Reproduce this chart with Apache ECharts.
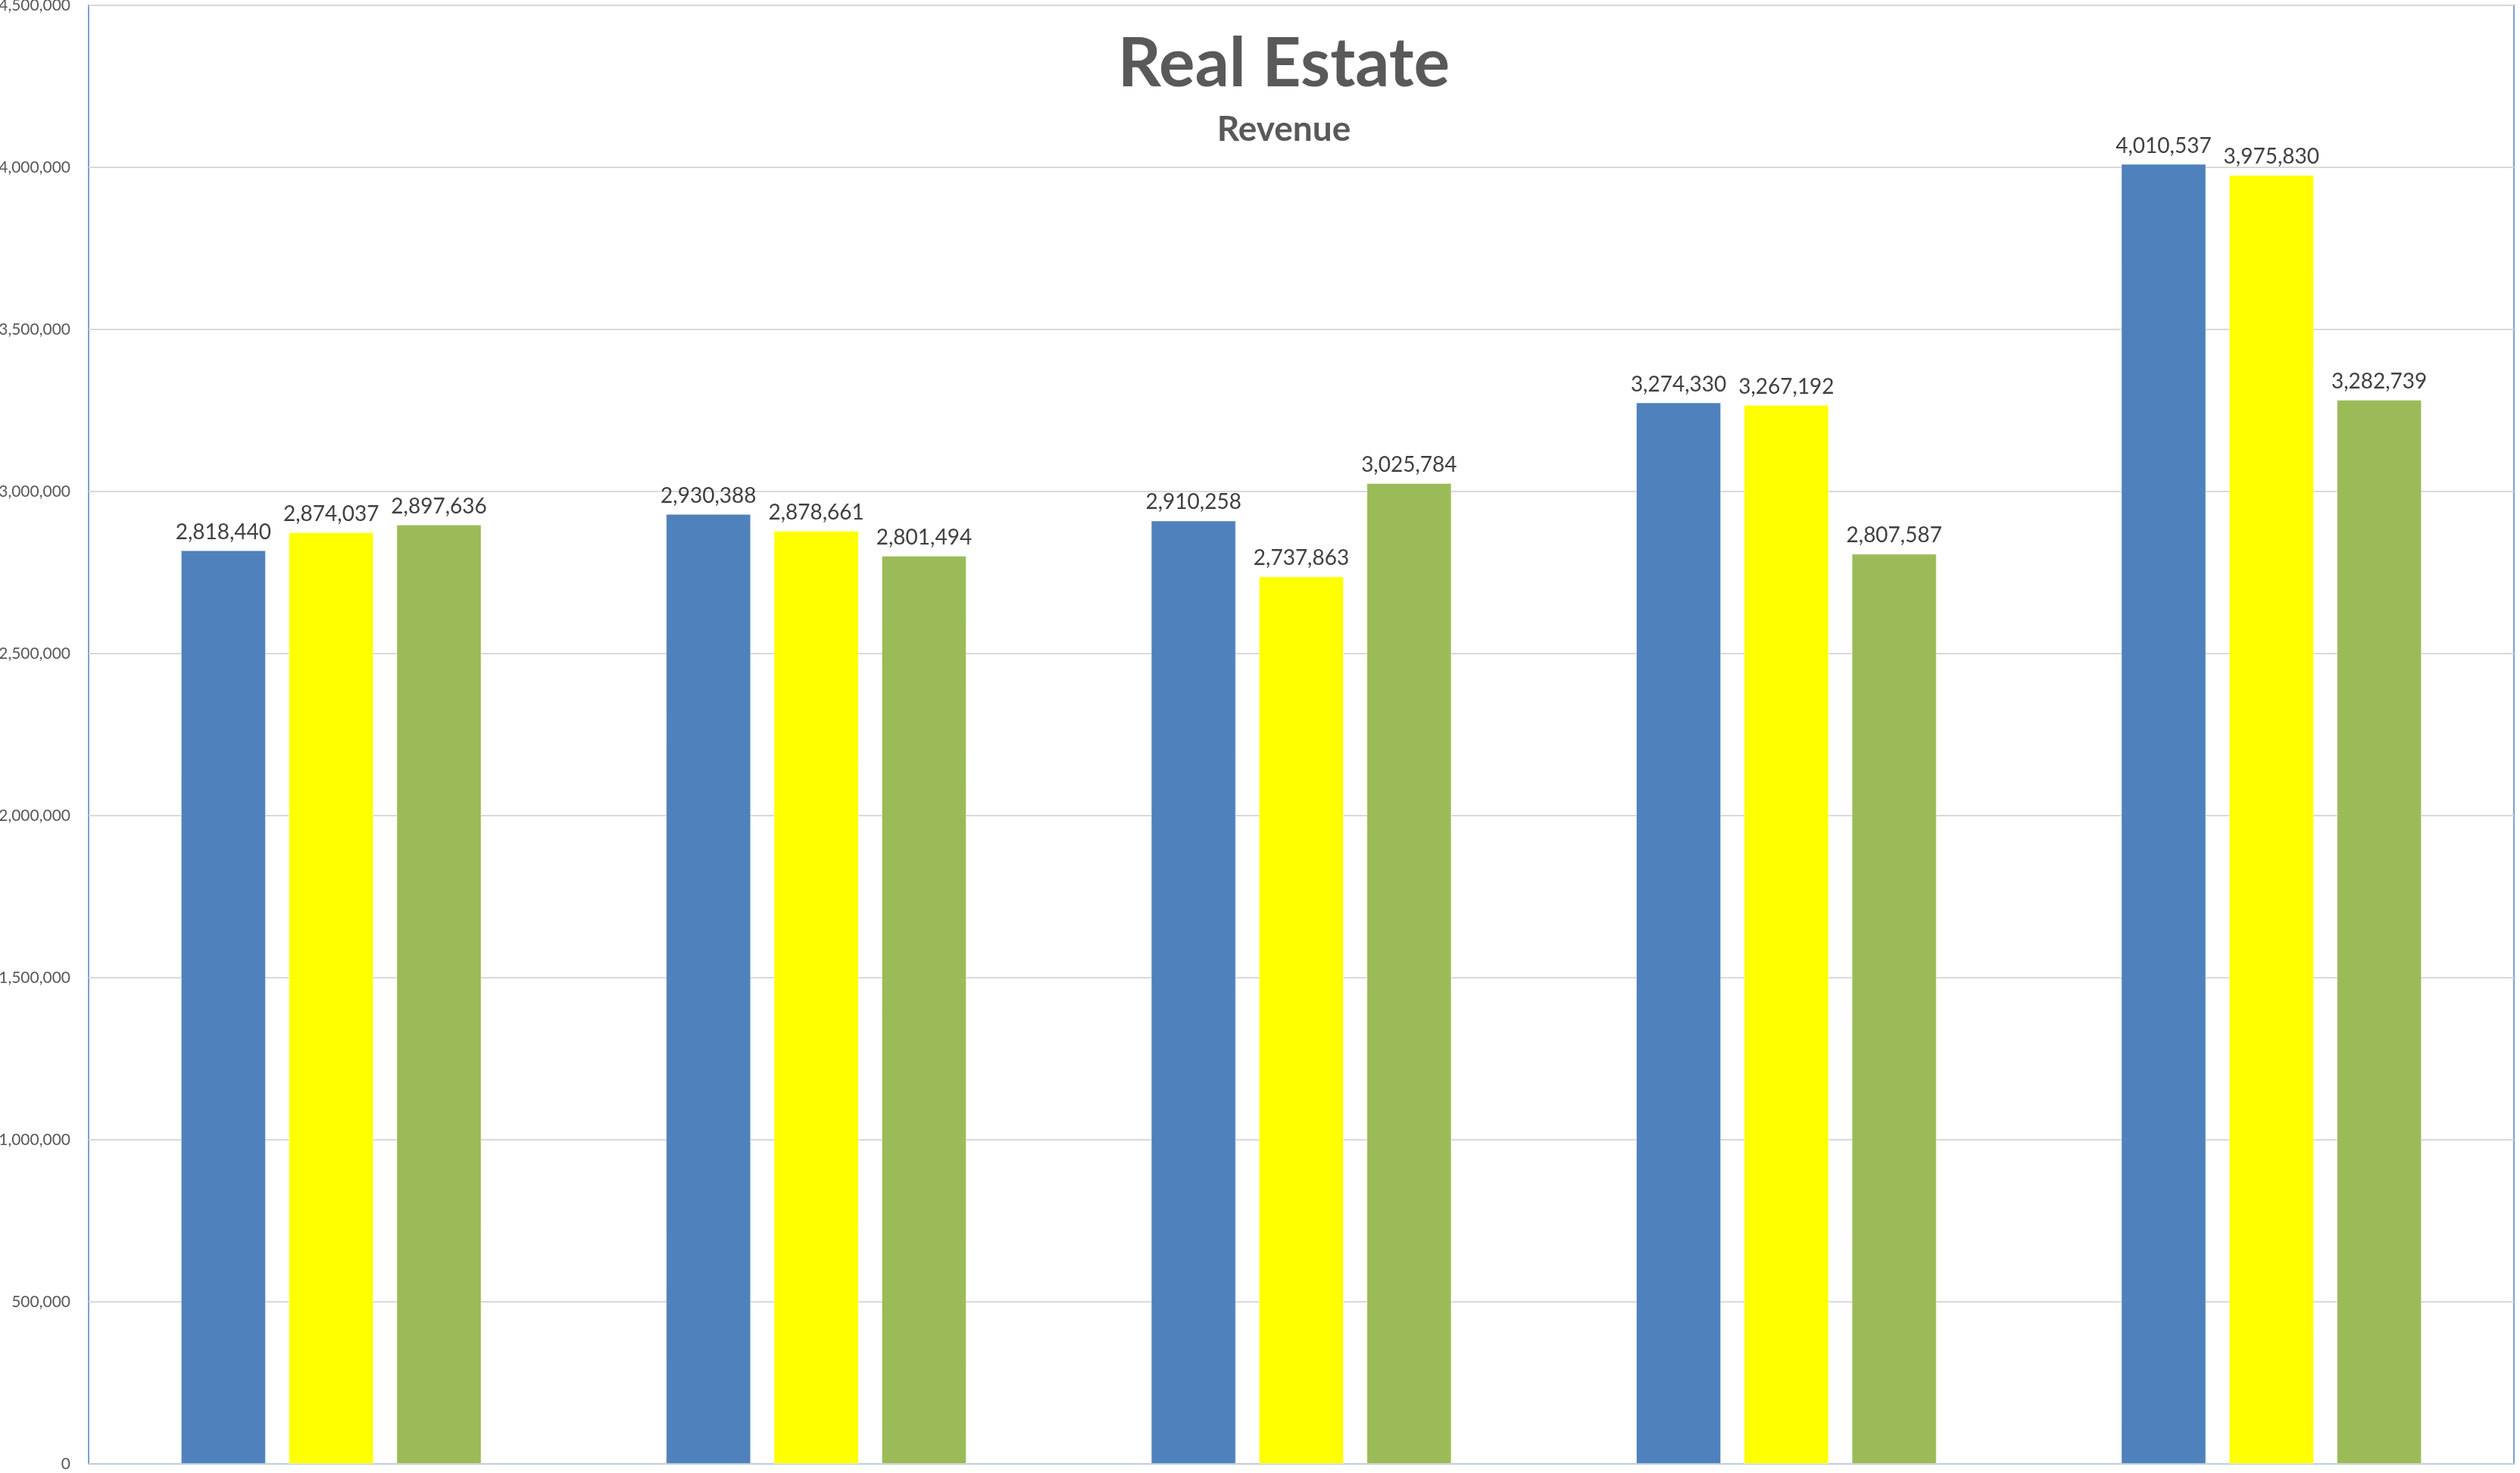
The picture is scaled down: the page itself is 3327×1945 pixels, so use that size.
<!DOCTYPE html>
<html>
<head>
<meta charset="utf-8">
<script src="https://cdn.jsdelivr.net/npm/echarts@6/dist/echarts.min.js"></script>
<style>
  html, body { margin: 0; padding: 0; background: #ffffff; }
  #chart { width: 3327px; height: 1945px; }
</style>
</head>
<body>
<div id="chart"></div>
<script>
// Revenue by group, three periods per group
const categories = ['Group 1', 'Group 2', 'Group 3', 'Group 4', 'Group 5'];
const seriesNames = ['Period 1', 'Period 2', 'Period 3'];
const period1 = [2818440, 2930388, 2910258, 3274330, 4010537];
const period2 = [2874037, 2878661, 2737863, 3267192, 3975830];
const period3 = [2897636, 2801494, 3025784, 2807587, 3282739];
const seriesColors = ['#4F81BD', '#FFFF00', '#9BBB59'];

const axisMin = 0;
const axisMax = 4500000;
const axisStep = 500000;

const fmt = v => Number(v).toLocaleString('en-US');

const chart = echarts.init(document.getElementById('chart'));

const makeSeries = (name, data, color) => ({
  name: name,
  type: 'bar',
  data: data,
  barWidth: '17.5%',
  barGap: '27%',
  itemStyle: { color: color, borderColor: 'rgba(255,255,255,0.45)', borderWidth: 1 },
  label: {
    show: true,
    position: 'top',
    distance: 10,
    formatter: p => fmt(p.value),
    fontFamily: 'Lato',
    fontSize: 28,
    color: '#404040'
  }
});

chart.setOption({
  animation: false,
  backgroundColor: '#ffffff',
  title: [
    {
      text: 'Real Estate',
      left: 1690,
      top: 36,
      textAlign: 'center',
      textStyle: { fontFamily: 'Lato', fontWeight: 'bold', fontSize: 89, color: '#595959' }
    },
    {
      text: 'Revenue',
      left: 1690,
      top: 143,
      textAlign: 'center',
      textStyle: { fontFamily: 'Lato', fontWeight: 'bold', fontSize: 46, color: '#595959' }
    }
  ],
  grid: {
    left: 117,
    top: 7,
    right: 8,
    bottom: 12,
    show: true,
    borderColor: '#7EA1CF',
    borderWidth: 2,
    containLabel: false,
    outerBoundsMode: 'none'
  },
  xAxis: {
    type: 'category',
    data: categories,
    axisLine: { show: true, lineStyle: { color: '#C3CCDA', width: 2 } },
    axisTick: { show: false },
    axisLabel: { show: false },
    splitLine: { show: false }
  },
  yAxis: {
    type: 'value',
    min: axisMin,
    max: axisMax,
    interval: axisStep,
    axisLine: { show: false },
    axisTick: { show: false },
    axisLabel: {
      formatter: v => fmt(v),
      fontFamily: 'Lato',
      fontSize: 21,
      color: '#595959',
      margin: 24
    },
    splitLine: { lineStyle: { color: '#D9D9D9', width: 2 } }
  },
  series: [
    makeSeries(seriesNames[0], period1, seriesColors[0]),
    makeSeries(seriesNames[1], period2, seriesColors[1]),
    makeSeries(seriesNames[2], period3, seriesColors[2])
  ]
});
</script>
</body>
</html>
